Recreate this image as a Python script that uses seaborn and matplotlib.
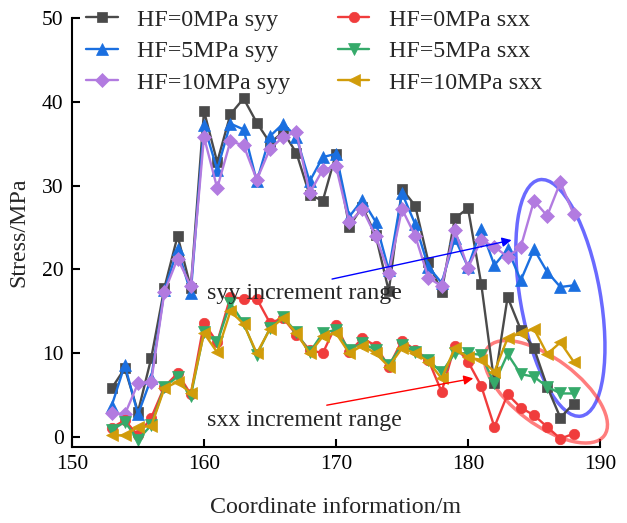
import numpy as np
import pandas as pd
import seaborn as sns
import matplotlib
matplotlib.use("Agg")
import matplotlib.pyplot as plt
from matplotlib.patches import Ellipse
from matplotlib.transforms import IdentityTransform

# ---- data ----
coord = list(range(153, 189))

syy_0 = [5.8, 8.2, 3.0, 9.4, 17.8, 24.0, 17.8, 38.9, 32.8, 38.5, 40.4, 37.5,
         35.1, 36.4, 33.9, 28.9, 28.2, 33.8, 25.1, 27.5, 24.1, 17.4, 29.6, 27.6,
         20.9, 17.3, 26.1, 27.3, 18.3, 6.4, 16.7, 12.8, 10.6, 6.0, 2.3, 4.0]
syy_5 = [3.7, 8.6, 2.7, 7.0, 17.5, 22.4, 17.2, 37.2, 31.9, 37.4, 36.7, 30.5,
         35.9, 37.4, 35.8, 30.5, 33.4, 33.8, 26.3, 28.3, 25.7, 19.9, 29.1, 25.4,
         20.3, 18.4, 23.7, 20.3, 24.8, 20.5, 22.4, 18.7, 22.4, 19.7, 17.9, 18.1]
syy_10 = [2.9, 2.7, 6.4, 6.6, 17.3, 21.3, 18.0, 35.8, 29.7, 35.3, 34.8, 30.7,
          34.4, 35.8, 36.4, 29.1, 31.9, 32.3, 25.6, 27.2, 24.0, 19.6, 27.2, 24.0,
          19.0, 18.0, 24.7, 20.2, 23.5, 22.7, 21.5, 22.7, 28.2, 26.4, 30.4, 26.6]
sxx_0 = [1.1, 2.0, 0.2, 2.3, 6.0, 7.6, 5.1, 13.6, 11.3, 16.7, 16.5, 16.5,
         13.6, 14.2, 12.2, 10.4, 10.0, 13.4, 10.1, 11.8, 10.9, 8.4, 11.5, 10.4,
         9.2, 5.4, 10.9, 9.0, 6.1, 1.2, 5.1, 3.5, 2.6, 1.2, -0.2, 0.4]
sxx_5 = [0.8, 1.8, -0.3, 1.4, 6.0, 7.2, 4.9, 12.5, 11.3, 16.0, 13.6, 9.8,
         13.0, 14.3, 12.5, 10.1, 12.4, 12.8, 10.4, 11.2, 10.4, 8.6, 11.0, 10.1,
         9.2, 7.7, 10.0, 10.0, 9.8, 6.4, 9.9, 7.5, 7.2, 6.0, 5.2, 5.2]
sxx_10 = [0.2, 0.2, 1.2, 1.3, 5.8, 6.6, 5.2, 12.4, 10.1, 15.0, 13.5, 10.0,
          12.9, 14.2, 12.4, 10.0, 12.0, 12.4, 10.0, 10.9, 10.0, 8.4, 10.6, 10.0,
          9.0, 7.0, 10.6, 9.5, 9.2, 7.8, 11.8, 12.4, 12.9, 9.9, 11.3, 9.0]

labels = ["HF=0MPa syy", "HF=5MPa syy", "HF=10MPa syy",
          "HF=0MPa sxx", "HF=5MPa sxx", "HF=10MPa sxx"]
series = [syy_0, syy_5, syy_10, sxx_0, sxx_5, sxx_10]
colors = ["#4a4a4a", "#1a6fe0", "#b27be0", "#f03c3c", "#35aa6a", "#d19c0a"]
markers = ["s", "^", "D", "o", "v", "<"]
msizes = [6.5, 8, 7, 7.5, 8, 8]

x_ticks = [150, 160, 170, 180, 190]
y_ticks = [0, 10, 20, 30, 40, 50]

# ---- style ----
sns.set_theme(style="ticks")
plt.rcParams["font.family"] = ["Liberation Serif", "DejaVu Serif"]
plt.rcParams["mathtext.fontset"] = "stix"

W, H = 627, 523
fig = plt.figure(figsize=(W / 100, H / 100), dpi=100)
ax = fig.add_axes([72 / W, 1 - 446.5 / H, 528 / W, (446.5 - 18) / H])

for vals, lab, c, m, ms in zip(series, labels, colors, markers, msizes):
    sns.lineplot(x=coord, y=vals, ax=ax, color=c, marker=m, markersize=ms,
                 markeredgecolor=c, markeredgewidth=0.5, linewidth=1.7,
                 label=lab, sort=False)

ax.set_xlim(150, 190)
ax.set_ylim(-1.13, 50)
ax.set_xticks(x_ticks)
ax.set_yticks(y_ticks)
ax.tick_params(direction="in", length=6, width=1.5, labelsize=15.5,
               colors="black", pad=6)
for s in ["top", "right"]:
    ax.spines[s].set_visible(False)
for s in ["left", "bottom"]:
    ax.spines[s].set_linewidth(1.5)
    ax.spines[s].set_color("black")

ax.set_xlabel("Coordinate information/m", fontsize=17.3, labelpad=17)
ax.set_ylabel("Stress/MPa", fontsize=17.3, labelpad=9)

leg = ax.legend(ncol=2, frameon=False, loc="upper left",
                bbox_to_anchor=(0.0, 1.055), fontsize=17.3,
                handlelength=1.3, handletextpad=0.8, columnspacing=2.0,
                labelspacing=0.4, borderaxespad=0.2)

# annotations
ax.annotate("", xy=(183.3, 23.5), xytext=(169.7, 18.85),
            arrowprops=dict(arrowstyle="-|>", color="blue", lw=1.0,
                            mutation_scale=14, shrinkA=0, shrinkB=0))
ax.annotate("", xy=(180.4, 7.0), xytext=(169.3, 3.8),
            arrowprops=dict(arrowstyle="-|>", color="red", lw=1.0,
                            mutation_scale=14, shrinkA=0, shrinkB=0))
ax.text(160.2, 16.5, "syy increment range", fontsize=17.3, va="baseline", ha="left")
ax.text(160.2, 1.3, "sxx increment range", fontsize=17.3, va="baseline", ha="left")

# ellipses (sized in pixels, centred in data coords)
cb = ax.transData.transform((187.0, 16.6))
cr = ax.transData.transform((185.9, 5.4))
e1 = Ellipse(cb, 240, 80, angle=100, fill=False, edgecolor=(0.1, 0.1, 1, 0.65),
             lw=2.5, transform=IdentityTransform(), clip_on=False)
e2 = Ellipse(cr, 146, 66, angle=-37, fill=False, edgecolor=(1, 0.15, 0.15, 0.6),
             lw=2.5, transform=IdentityTransform(), clip_on=False)
ax.add_patch(e1)
ax.add_patch(e2)

fig.savefig("out.png", dpi=100)
